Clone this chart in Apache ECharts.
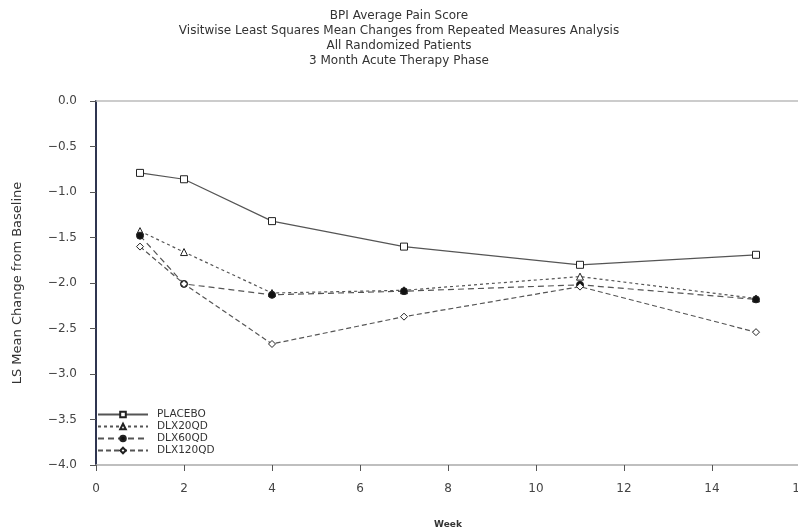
<!DOCTYPE html>
<html><head><meta charset="utf-8">
<script src="https://cdn.jsdelivr.net/npm/echarts@6/dist/echarts.min.js"></script>
<style>html,body{margin:0;padding:0;background:#fff}#c{width:798px;height:528px}</style>
</head><body><div id="c"></div>
<script>
var weeks = [1, 2, 4, 7, 11, 15];
var placebo = [-0.79, -0.86, -1.32, -1.60, -1.80, -1.69];
var dlx20 = [-1.43, -1.66, -2.11, -2.08, -1.93, -2.17];
var dlx60 = [-1.48, -2.01, -2.13, -2.09, -2.02, -2.18];
var dlx120 = [-1.60, -2.01, -2.67, -2.37, -2.04, -2.54];
var seriesNames = ['PLACEBO', 'DLX20QD', 'DLX60QD', 'DLX120QD'];
var titleLines = ['BPI Average Pain Score', 'Visitwise Least Squares Mean Changes from Repeated Measures Analysis', 'All Randomized Patients', '3 Month Acute Therapy Phase'];

function pairs(v){ return weeks.map(function(w,i){ return [w, v[i]]; }); }
var font = 'DejaVu Sans, Verdana, sans-serif';
var chart = echarts.init(document.getElementById('c'), null, {renderer:'canvas'});
var lc = '#555';
function mk(name, data, symbol, size, fill, dash, w){
  return {
    name: name, type: 'line', data: pairs(data), symbol: symbol, symbolSize: size,
    showAllSymbol: true,
    lineStyle: {color: lc, width: w, type: dash},
    itemStyle: {color: fill, borderColor: '#222', borderWidth: 1},
    emphasis: {disabled: true}, animation: false
  };
}
var s0 = mk('PLACEBO', placebo, 'rect', 7, '#fff', 'solid', 1.2);
s0.markLine = {silent: true, symbol: 'none', label: {show: false},
  lineStyle: {color: '#bbb', width: 1.5, type: 'solid'}, data: [{yAxis: 0}]};
chart.setOption({
  animation: false,
  textStyle: {fontFamily: font},
  title: titleLines.map(function(t,i){
    return {text: t, left: 'center', top: 5 + i*14.8, textStyle: {fontSize: 12, fontWeight: 'normal', color: '#333', fontFamily: font}};
  }),
  grid: {left: 96, top: 101, width: 704, height: 364, outerBoundsMode: 'none', containLabel: false},
  legend: {
    orient: 'vertical', left: 92, top: 404, itemGap: 1, itemWidth: 50, itemHeight: 7,
    data: seriesNames,
    textStyle: {fontSize: 10.5, color: '#333', fontFamily: font, padding: [0,0,0,4]}
  },
  xAxis: {
    type: 'value', min: 0, max: 16, interval: 2,
    name: 'Week', nameLocation: 'middle', nameGap: 55,
    nameTextStyle: {fontSize: 9, fontWeight: 'bold', color: '#333'},
    axisLine: {show: true, onZero: false, lineStyle: {color: '#aaa', width: 1.5}},
    axisTick: {show: true, length: 6, lineStyle: {color: '#555'}},
    axisLabel: {fontSize: 12, color: '#444', margin: 18},
    splitLine: {show: false}
  },
  yAxis: {
    type: 'value', min: -4, max: 0, interval: 0.5, offset: 8,
    name: 'LS Mean Change from Baseline', nameLocation: 'middle', nameGap: 64, nameRotate: 90,
    nameTextStyle: {fontSize: 13, color: '#333'},
    axisLine: {show: true, lineStyle: {color: '#2f3550', width: 2}},
    axisTick: {show: true, length: 6, lineStyle: {color: '#555'}},
    axisLabel: {fontSize: 12, color: '#444', margin: 11,
      formatter: function(v){ var s = Math.abs(v).toFixed(1); return (v < 0 ? '\u2212' : '') + s; }},
    splitLine: {show: false}
  },
  series: [
    s0,
    mk('DLX20QD', dlx20, 'triangle', 7, '#fff', [3,3], 1.2),
    mk('DLX60QD', dlx60, 'circle', 7, '#111', [6,4], 1.2),
    mk('DLX120QD', dlx120, 'diamond', 7, '#fff', [5,3], 1.2)
  ]
});
</script></body></html>
